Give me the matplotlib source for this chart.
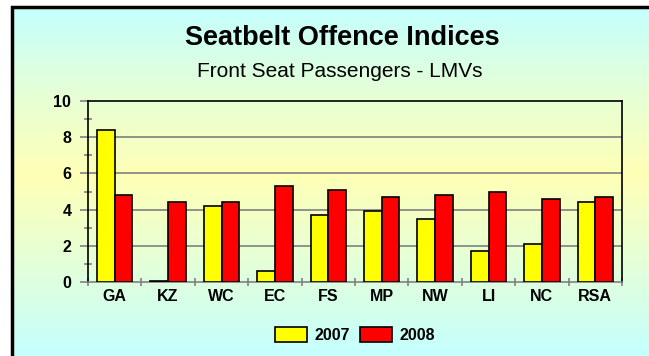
import numpy as np
import matplotlib.pyplot as plt
from matplotlib.colors import to_rgb
from matplotlib.patches import Patch

plt.rcParams['font.family'] = ['Liberation Sans', 'DejaVu Sans']

regions = ["GA", "KZ", "WC", "EC", "FS", "MP", "NW", "LI", "NC", "RSA"]
idx_2007 = [8.4, 0.05, 4.2, 0.6, 3.7, 3.9, 3.5, 1.7, 2.1, 4.4]
idx_2008 = [4.8, 4.4, 4.4, 5.3, 5.1, 4.7, 4.8, 5.0, 4.6, 4.7]
years = ["2007", "2008"]
colors = ["#ffff00", "#ff0000"]

W, H = 649, 356
fig = plt.figure(figsize=(W / 100, H / 100), dpi=100)
fig.patch.set_facecolor("white")

# background panel: cyan -> pale yellow -> cyan, top to bottom
stops = [0.0, 0.25, 0.48, 0.72, 1.0]
stop_cols = np.array([to_rgb(c) for c in
                      ["#c4ffff", "#e6ffd6", "#ffffb6", "#e6ffd6", "#c4ffff"]])
t = np.linspace(0, 1, 400)
grad = np.stack([np.interp(t, stops, stop_cols[:, k]) for k in range(3)],
                axis=-1)[:, None, :]

bg = fig.add_axes([0, 0, 1, 1], zorder=0)
bg.imshow(grad, aspect="auto", extent=(12, W, H, 7), origin="upper",
          interpolation="nearest")
bg.plot([12, 12, W], [H, 7, 7], color="black", lw=2.5,
        solid_joinstyle="miter")
bg.set_xlim(0, W)
bg.set_ylim(H, 0)
bg.axis("off")

fig.text(0.527, 0.893, "Seatbelt Offence Indices", ha="center", va="center",
         fontsize=19.5, fontweight="bold")
fig.text(0.524, 0.800, "Front Seat Passengers - LMVs", ha="center",
         va="center", fontsize=15)

ax = fig.add_axes([88 / W, 1 - 282 / H, (622 - 88) / W, (282 - 101) / H],
                  zorder=1)
ax.patch.set_alpha(0)

x = np.arange(len(regions))
w = 0.33
ax.bar(x - w / 2, idx_2007, w, color=colors[0], edgecolor="black", lw=1.2,
       zorder=3, label=years[0])
ax.bar(x + w / 2, idx_2008, w, color=colors[1], edgecolor="black", lw=1.2,
       zorder=3, label=years[1])

ax.set_xlim(-0.5, len(regions) - 0.5)
ax.set_ylim(0, 10)
ax.set_yticks(np.arange(0, 11, 2))
ax.set_yticks(np.arange(1, 10, 2), minor=True)
ax.set_xticks(x)
ax.set_xticklabels(regions)
ax.set_xticks(np.arange(-0.5, len(regions)), minor=True)

for g in [2, 4, 6, 8]:
    ax.axhline(g, color="#808080", lw=1.2, zorder=1)

ax.spines["left"].set_color("black")
ax.spines["right"].set_color("black")
ax.spines["top"].set_color("black")
ax.spines["bottom"].set_color("#808080")
for s in ax.spines.values():
    s.set_linewidth(1.2)

ax.tick_params(axis="x", which="major", length=0, pad=5)
ax.tick_params(axis="x", which="minor", direction="inout", length=6,
               color="#808080", width=1.2)
ax.tick_params(axis="y", which="major", direction="out", length=6,
               color="#808080", width=1.2, pad=6)
ax.tick_params(axis="y", which="minor", direction="inout", length=6,
               color="#808080", width=1.2)
for lab in ax.get_xticklabels() + ax.get_yticklabels():
    lab.set_fontweight("bold")
    lab.set_fontsize(11.5)

handles = [Patch(facecolor=c, edgecolor="black", lw=1.2, label=y)
           for c, y in zip(colors, years)]
fig.legend(handles=handles, loc="center", bbox_to_anchor=(355 / W, 1 - 335 / H),
           ncol=2, frameon=False, handlelength=2.0, handleheight=1.1,
           handletextpad=0.5, columnspacing=0.6,
           prop={"weight": "bold", "size": 11.5})

fig.savefig("out.png", dpi=100)
